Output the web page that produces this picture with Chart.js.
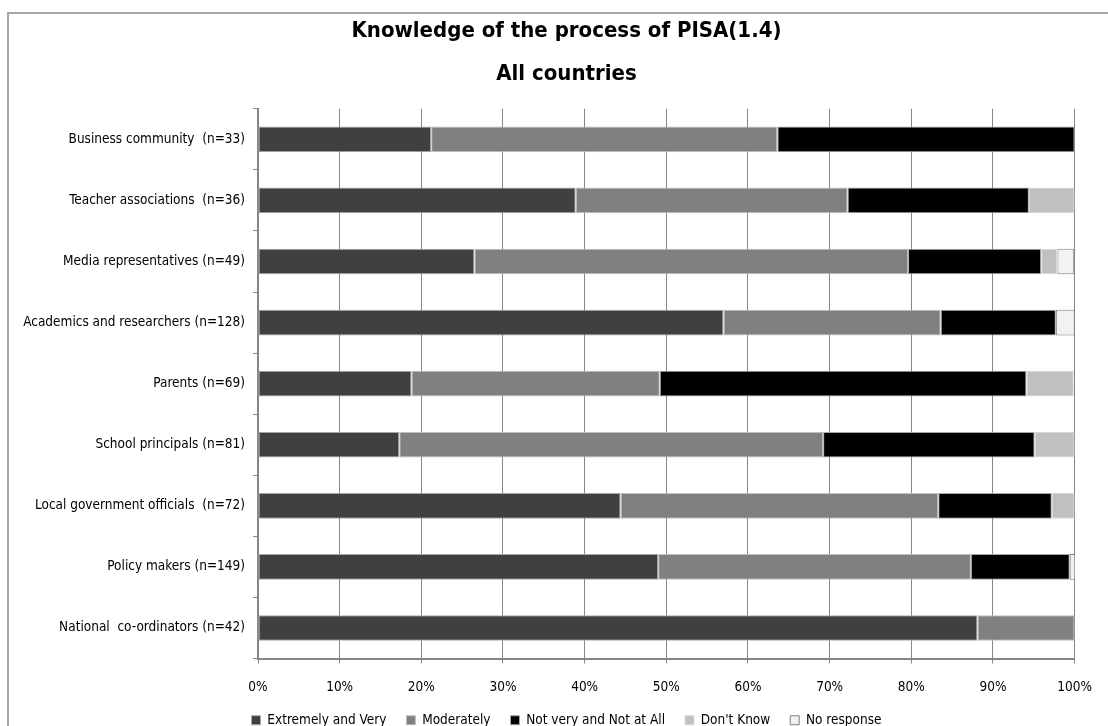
<!doctype html>
<html lang="en">
  <head>
    <meta charset="UTF-8" />
    <title>Knowledge of the process of PISA</title>
    <script src="https://cdn.jsdelivr.net/npm/chart.js"></script>
    <style>
      body {
        margin: 0;
        background: #fff;
        overflow: hidden;
      }
      #frame {
        position: absolute;
        left: 7px;
        top: 12px;
        width: 1200px;
        height: 800px;
        border: 2px solid #a6a6a6;
      }
      #wrap {
        position: absolute;
        left: 0;
        top: 0;
        width: 1108px;
        height: 726px;
      }
    </style>
  </head>
  <body>
    <div id="frame"></div>
    <div id="wrap"><canvas id="pisaChart" width="1108" height="726"></canvas></div>

    <script>
      const categories = [
        "Business community  (n=33)",
        "Teacher associations  (n=36)",
        "Media representatives (n=49)",
        "Academics and researchers (n=128)",
        "Parents (n=69)",
        "School principals (n=81)",
        "Local government officials  (n=72)",
        "Policy makers (n=149)",
        "National  co-ordinators (n=42)",
      ];
      // percentages
      const extremelyVery = [21.2, 38.9, 26.5, 57.0, 18.8, 17.3, 44.4, 49.0, 88.1];
      const moderately = [42.4, 33.3, 53.1, 26.6, 30.4, 51.9, 38.9, 38.3, 11.9];
      const notVery = [36.4, 22.2, 16.3, 14.1, 44.9, 25.9, 13.9, 12.1, 0];
      const dontKnow = [0, 5.6, 2.0, 0, 5.8, 4.9, 2.8, 0, 0];
      const noResponse = [0, 0, 2.0, 2.3, 0, 0, 0, 0.7, 0];
      const xTicks = [0, 10, 20, 30, 40, 50, 60, 70, 80, 90, 100];

      const FONT = "'Liberation Sans Narrow', 'DejaVu Sans Condensed', sans-serif";

      // title and legend sit a bit right of the canvas centre in the original
      const shiftTitleLegend = {
        id: "shiftTitleLegend",
        afterLayout(chart) {
          [chart.titleBlock, chart.legend].forEach((box) => {
            if (!box) return;
            box.left += 18;
            box.right += 18;
          });
        },
      };

      const ctx = document.getElementById("pisaChart").getContext("2d");
      new Chart(ctx, {
        type: "bar",
        data: {
          labels: categories,
          datasets: [
            { label: "Extremely and Very", data: extremelyVery, backgroundColor: "#404040", borderColor: "#a6a6a6" },
            { label: "Moderately", data: moderately, backgroundColor: "#808080", borderColor: "#bfbfbf" },
            { label: "Not very and Not at All", data: notVery, backgroundColor: "#000000", borderColor: "#a6a6a6" },
            { label: "Don't Know", data: dontKnow, backgroundColor: "#c0c0c0", borderColor: "#d9d9d9" },
            { label: "No response", data: noResponse, backgroundColor: "#f2f2f2", borderColor: "#808080" },
          ],
        },
        plugins: [shiftTitleLegend],
        options: {
          indexAxis: "y",
          responsive: false,
          animation: false,
          datasets: {
            bar: {
              borderWidth: 1,
              borderSkipped: false,
              categoryPercentage: 1,
              barPercentage: 0.42,
            },
          },
          layout: {
            // plot area ends up at x 258..1087, y 109..648
            padding: { left: 10, right: 21, top: 10, bottom: -11 },
          },
          plugins: {
            title: {
              display: true,
              text: ["Knowledge of the process of PISA(1.4)", "All countries"],
              color: "#000",
              font: { family: FONT, size: 22, weight: "bold", lineHeight: 1.95 },
              padding: { top: 0, bottom: 13 },
            },
            legend: {
              position: "bottom",
              labels: {
                color: "#000",
                boxWidth: 9,
                boxHeight: 9,
                padding: 20,
                font: { family: FONT, size: 13.5 },
              },
            },
            tooltip: { enabled: false },
          },
          scales: {
            x: {
              stacked: true,
              min: 0,
              max: 100,
              afterBuildTicks: (scale) => {
                scale.ticks = xTicks.map((v) => ({ value: v }));
              },
              ticks: {
                color: "#000",
                font: { family: FONT, size: 13.5 },
                padding: 16,
                callback: (v) => v + "%",
              },
              grid: { color: "#868686", tickLength: 5 },
              border: { color: "#868686", width: 2 },
              afterFit: (scale) => {
                scale.height = 35;
              },
            },
            y: {
              stacked: true,
              ticks: {
                color: "#000",
                font: { family: FONT, size: 13.5 },
                padding: 8,
              },
              grid: { offset: true, drawOnChartArea: false, color: "#868686", tickLength: 5 },
              border: { color: "#868686", width: 2 },
              afterFit: (scale) => {
                scale.width = 248;
              },
            },
          },
        },
      });
    </script>
  </body>
</html>
